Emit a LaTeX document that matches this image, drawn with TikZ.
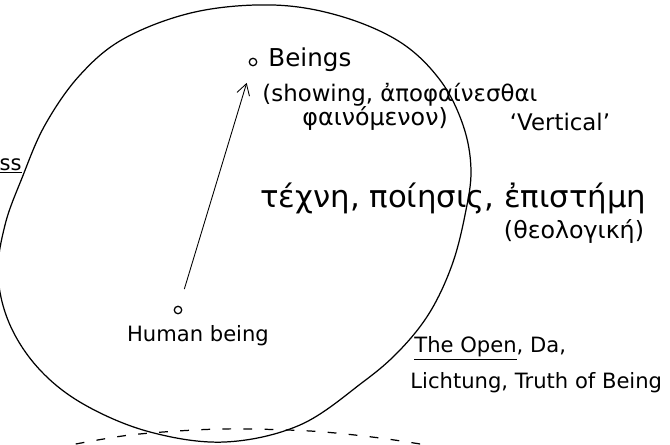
\documentclass[tikz,border=0pt]{standalone}
\usepackage{fontspec}
\setmainfont{DejaVu Sans}
\usetikzlibrary{arrows.meta}
\begin{document}
\begin{tikzpicture}[x=0.2mm,y=-0.2mm,line width=0.7pt,font=\fontsize{12}{14}\selectfont]
\useasboundingbox (0,0) rectangle (670,445);
\draw plot[smooth cycle,tension=0.6] coordinates {(273,5) (340,16) (400,42) (440,80) (463,125) (471,170) (465,215) (452,265) (430,312) (400,350) (363,382) (300,425) (225,442) (150,432) (85,405) (40,370) (10,325) (-2,275) (5,225) (22,178) (45,125) (80,75) (125,38) (195,12)};
\draw[dashed,dash pattern=on 5pt off 7pt] plot[smooth] coordinates {(55,448) (130,435) (220,429) (310,431) (380,438) (445,448)};
\node[circle,draw,inner sep=1.5pt] (beingsdot) at (253,62) {};
\node[anchor=west,font=\fontsize{14}{16}\selectfont] (beings) at (262,60) {Beings};
\node[anchor=west,font=\fontsize{13}{15}\selectfont] (showing) at (256,95) {(showing, ἀποφαίνεσθαι};
\node[anchor=west,font=\fontsize{13.5}{15}\selectfont] (phainomenon) at (296,118) {φαινόμενον)};
\node[font=\fontsize{13}{15}\selectfont] (vertical) at (560,122) {‘Vertical’};
\node[anchor=west,font=\fontsize{17.5}{19}\selectfont] (techne) at (254,198) {τέχνη, ποίησις, ἐπιστήμη};
\node[font=\fontsize{13.5}{15}\selectfont] (theologike) at (574,231) {(θεολογική)};
\node[circle,draw,inner sep=1.5pt] (humandot) at (178,310) {};
\node (human) at (198,336) {Human being};
\node[anchor=west] (open) at (408,348) {\underline{The Open}, Da,};
\node[anchor=west] (lichtung) at (404,383) {Lichtung, Truth of Being};
\node[anchor=east] (ss) at (28,166) {\underline{ss}};
\draw[-{Straight Barb[length=2.2mm,width=2.6mm]},line width=0.5pt,shorten <=3.5mm,shorten >=3.5mm] (humandot) -- (beingsdot);
\end{tikzpicture}
\end{document}
